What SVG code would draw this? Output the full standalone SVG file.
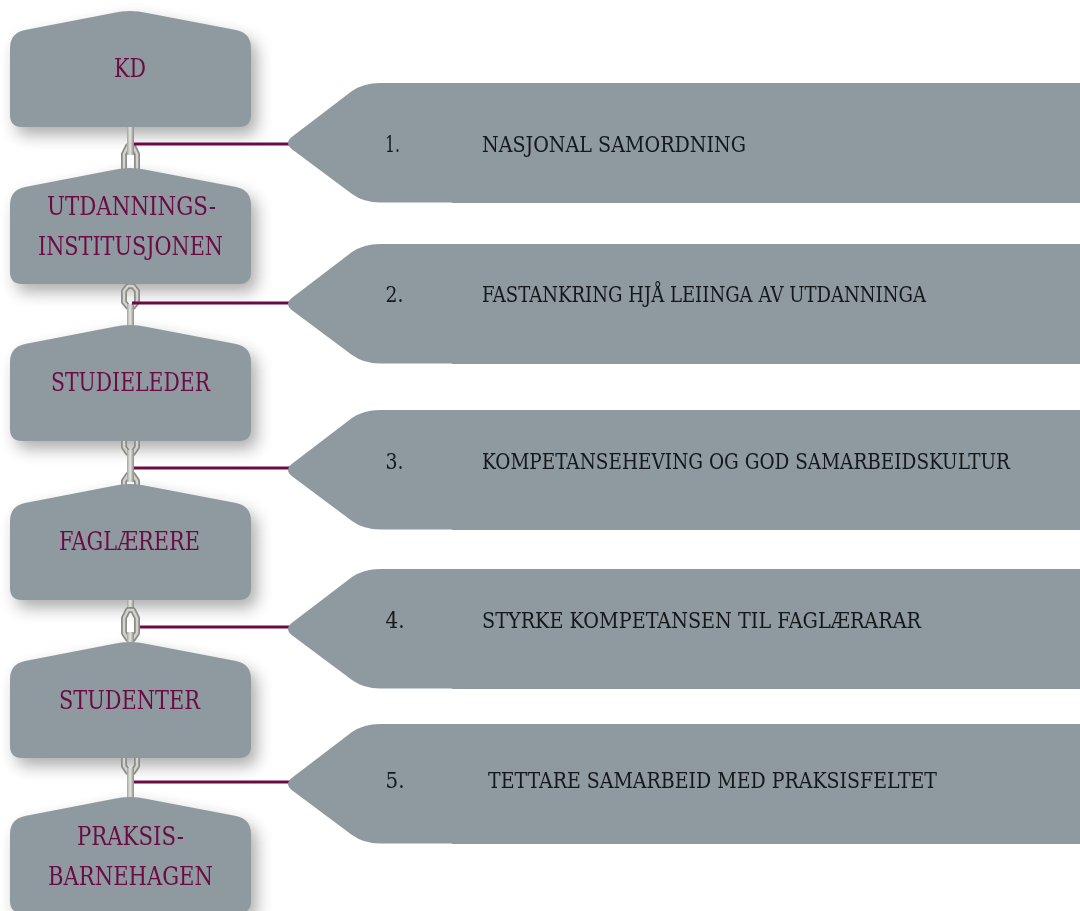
<svg xmlns="http://www.w3.org/2000/svg" xmlns:xlink="http://www.w3.org/1999/xlink" width="1080" height="911" viewBox="0 0 1080 911">
<style>
.shape{fill:#8f9aa0}
.nt{font-family:"DejaVu Serif Condensed","DejaVu Serif",serif;font-size:26px;fill:#6b0a44;text-anchor:middle}
.at{font-family:"DejaVu Serif Condensed","DejaVu Serif",serif;font-size:23px;fill:#14181a}
.line{stroke:#6b0a44;stroke-width:3;fill:none}
.lo{stroke:#8c8c87;stroke-width:6;fill:none;stroke-linejoin:round}
.li{stroke:#d2d2ce;stroke-width:2.5;fill:none;stroke-linejoin:round}
.bar{fill:url(#barGrad)}
</style>
<defs>
<linearGradient id="barGrad" x1="0" x2="1" y1="0" y2="0"><stop offset="0" stop-color="#a3a39e"/><stop offset=".45" stop-color="#e6e6e2"/><stop offset="1" stop-color="#8a8a85"/></linearGradient>
<filter id="sh" x="-20%" y="-20%" width="150%" height="150%"><feGaussianBlur stdDeviation="8"/></filter>
<path id="nodeShape" d="M10 48Q10 33 25 30L113 13Q130 9 147 13L236 30Q251 33 251 48V115Q251 127 239 127H22Q10 127 10 115Z"/>
<path id="arrowShape" d="M293 136L352 91Q364 83 380 83H1080V203H452V202.6H380Q364 202.6 352 194L293 150Q283 143 293 136Z"/>
<path id="ringA" d="M128 2H133L137 7V18L133 23H128L124 18V7Z"/>
<path id="ringB" d="M128 2H133L137 10V25L133 31H128L124 25V10Z"/>
</defs>
<g id="shadows" opacity=".48" filter="url(#sh)" fill="#555">
<use xlink:href="#nodeShape" x="6" y="8"/><use xlink:href="#nodeShape" x="6" y="165"/><use xlink:href="#nodeShape" x="6" y="322"/><use xlink:href="#nodeShape" x="6" y="481"/><use xlink:href="#nodeShape" x="6" y="639"/><use xlink:href="#nodeShape" x="6" y="794"/>
</g>
<g id="connectors">
<g id="chain1"><path class="lo" d="M124 170V154L128 146H133L137 154V170"/><path class="li" d="M124 170V154L128 146H133L137 154V170"/><rect class="bar" x="127" y="125" width="7" height="30"/></g>
<g id="chain2"><use xlink:href="#ringA" y="284" class="lo"/><use xlink:href="#ringA" y="284" class="li"/><rect class="bar" x="127" y="304" width="7" height="24"/></g>
<g id="chain3"><path class="lo" d="M124 440V447L128 453H133L137 447V440"/><path class="li" d="M124 440V447L128 453H133L137 447V440"/><path class="lo" d="M124 486V481L128 475H133L137 481V486"/><path class="li" d="M124 486V481L128 475H133L137 481V486"/><rect class="bar" x="127" y="450" width="7" height="32"/></g>
<g id="chain4"><rect class="bar" x="127" y="598" width="7" height="14"/><use xlink:href="#ringB" y="608" class="lo"/><use xlink:href="#ringB" y="608" class="li"/><rect class="bar" x="127" y="632" width="7" height="12"/></g>
<g id="chain5"><path class="lo" d="M124 756V766L128 772H133L137 766V756"/><path class="li" d="M124 756V766L128 772H133L137 766V756"/><rect class="bar" x="127" y="768" width="7" height="32"/></g>
<path class="line" d="M134 144H290M132 303H290M134 468H290M140 627H290M134 782H290"/>
</g>
<g id="node-kd"><use xlink:href="#nodeShape" class="shape"/><text class="nt" x="130" y="77" textLength="32" lengthAdjust="spacingAndGlyphs">KD</text></g>
<g id="node-inst"><use xlink:href="#nodeShape" class="shape" y="157"/><text class="nt" x="131.500" y="215" textLength="169" lengthAdjust="spacingAndGlyphs">UTDANNINGS-</text><text class="nt" x="130.500" y="255" textLength="185" lengthAdjust="spacingAndGlyphs">INSTITUSJONEN</text></g>
<g id="node-studieleder"><use xlink:href="#nodeShape" class="shape" y="314"/><text class="nt" x="130.500" y="391" textLength="159" lengthAdjust="spacingAndGlyphs">STUDIELEDER</text></g>
<g id="node-faglaerere"><use xlink:href="#nodeShape" class="shape" y="473"/><text class="nt" x="129.500" y="550" textLength="141" lengthAdjust="spacingAndGlyphs">FAGLÆRERE</text></g>
<g id="node-studenter"><use xlink:href="#nodeShape" class="shape" y="631"/><text class="nt" x="129.500" y="709" textLength="141" lengthAdjust="spacingAndGlyphs">STUDENTER</text></g>
<g id="node-praksis"><use xlink:href="#nodeShape" class="shape" y="786"/><text class="nt" x="130.500" y="845" textLength="107" lengthAdjust="spacingAndGlyphs">PRAKSIS-</text><text class="nt" x="130.500" y="885" textLength="165" lengthAdjust="spacingAndGlyphs">BARNEHAGEN</text></g>
<g id="arrow-1"><use xlink:href="#arrowShape" class="shape"/><text class="at" x="385" y="152" textLength="15" lengthAdjust="spacingAndGlyphs">1.</text><text class="at" x="482" y="152" textLength="264" lengthAdjust="spacingAndGlyphs">NASJONAL SAMORDNING</text></g>
<g id="arrow-2"><use xlink:href="#arrowShape" class="shape" y="161"/><text class="at" x="385.500" y="302" textLength="18" lengthAdjust="spacingAndGlyphs">2.</text><text class="at" x="482" y="302" textLength="444" lengthAdjust="spacingAndGlyphs">FASTANKRING HJÅ LEIINGA AV UTDANNINGA</text></g>
<g id="arrow-3"><use xlink:href="#arrowShape" class="shape" y="327"/><text class="at" x="385.500" y="469" textLength="18" lengthAdjust="spacingAndGlyphs">3.</text><text class="at" x="482" y="469" textLength="528" lengthAdjust="spacingAndGlyphs">KOMPETANSEHEVING OG GOD SAMARBEIDSKULTUR</text></g>
<g id="arrow-4"><use xlink:href="#arrowShape" class="shape" y="486"/><text class="at" x="385.500" y="628" textLength="19" lengthAdjust="spacingAndGlyphs">4.</text><text class="at" x="482" y="628" textLength="439" lengthAdjust="spacingAndGlyphs">STYRKE KOMPETANSEN TIL FAGLÆRARAR</text></g>
<g id="arrow-5"><use xlink:href="#arrowShape" class="shape" y="641"/><text class="at" x="385.500" y="788" textLength="19" lengthAdjust="spacingAndGlyphs">5.</text><text class="at" x="488" y="788" textLength="449" lengthAdjust="spacingAndGlyphs">TETTARE SAMARBEID MED PRAKSISFELTET</text></g>
</svg>
